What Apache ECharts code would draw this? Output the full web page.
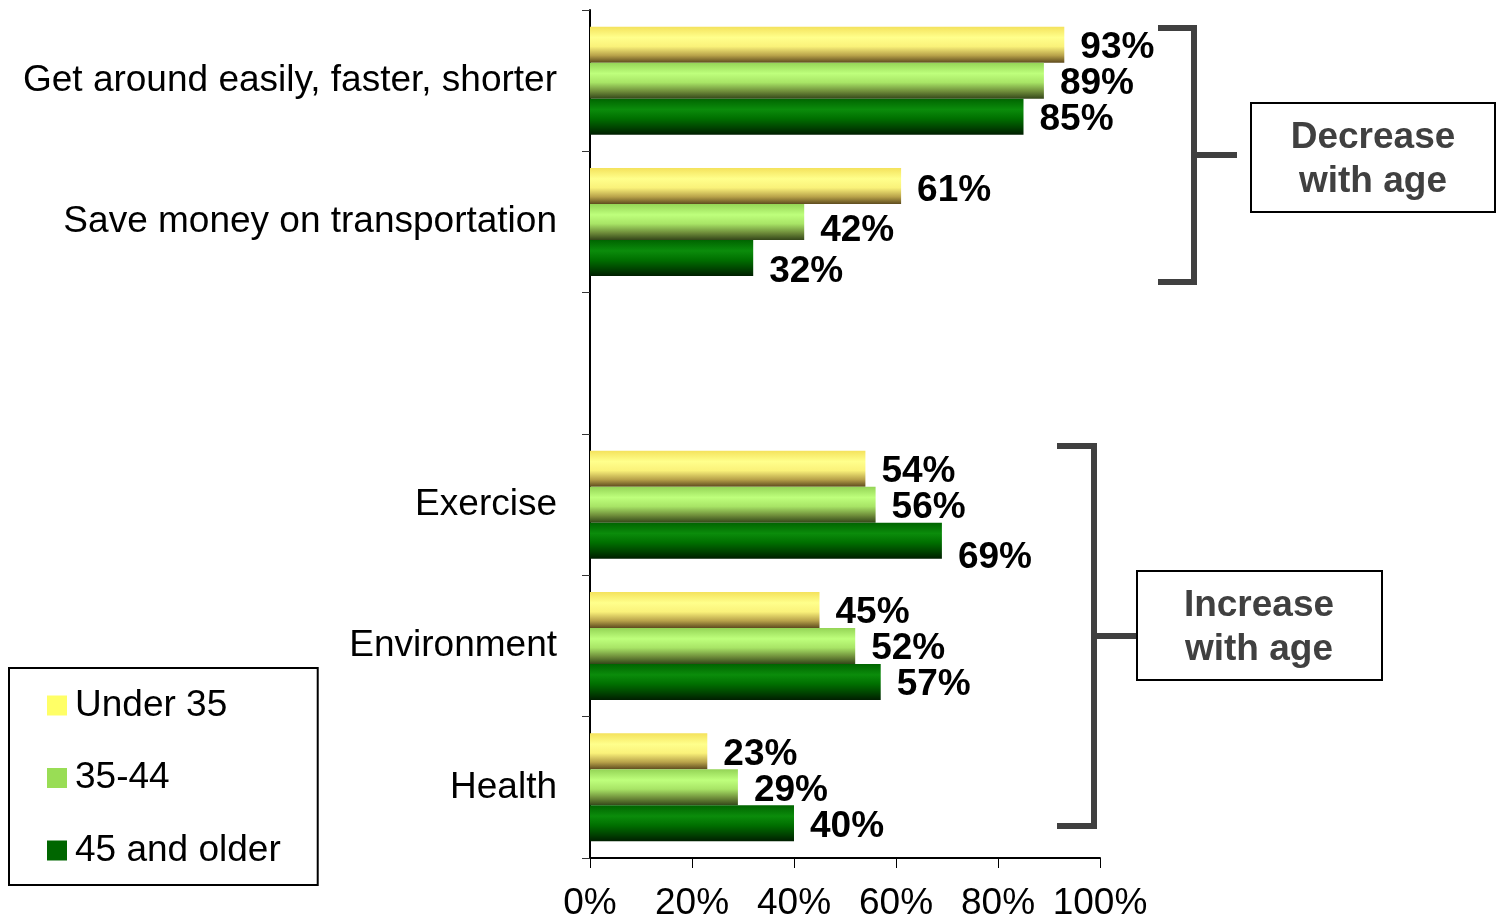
<!DOCTYPE html>
<html>
<head>
<meta charset="utf-8">
<title>Reasons for cycling by age group</title>
<script src="https://cdn.jsdelivr.net/npm/echarts@6/dist/echarts.min.js"></script>
<style>
  html, body { margin: 0; padding: 0; background: #fff; }
  #chart { width: 1496px; height: 919px; }
</style>
</head>
<body>
<div id="chart"></div>
<script>
// Categories top to bottom; the blank entry separates the two groups.
const categories = [
  'Get around easily, faster, shorter',
  'Save money on transportation',
  '',
  'Exercise',
  'Environment',
  'Health'
];
const seriesNames = ['Under 35', '35-44', '45 and older'];
const under35 = [93, 61, null, 54, 45, 23];
const age35to44 = [89, 42, null, 56, 52, 29];
const age45plus = [85, 32, null, 69, 57, 40];
const xTicks = [0, 20, 40, 60, 80, 100];

const FONT = '"Liberation Sans", Arial, Helvetica, sans-serif';
const FS = 37;

// Cylinder-like shading for each age group, plus a flat swatch for the legend.
const shades = [
  { flat: '#FFFF66', stops: ['#F4E25C', '#FFFF8C', '#FAF27A', '#B8A24A', '#5E4B1E'] },
  { flat: '#99DD55', stops: ['#94D456', '#BEFF7C', '#A8E466', '#6E8C3A', '#34461A'] },
  { flat: '#006600', stops: ['#006400', '#0B8C0B', '#007000', '#004400', '#001E00'] }
];
function gradient(stops) {
  return new echarts.graphic.LinearGradient(0, 0, 0, 1, [
    { offset: 0, color: stops[0] },
    { offset: 0.3, color: stops[1] },
    { offset: 0.55, color: stops[2] },
    { offset: 0.8, color: stops[3] },
    { offset: 1, color: stops[4] }
  ]);
}

// Small vertical nudges for value labels that sit below their bars.
const labelNudge = { '1|1': 9, '2|1': 14, '0|1': 5, '2|3': 17 };

const values = [under35, age35to44, age45plus];
const series = values.map((vals, s) => ({
  name: seriesNames[s],
  type: 'bar',
  barWidth: 36,
  barGap: '0%',
  barCategoryGap: '23.6%',
  itemStyle: { color: gradient(shades[s].stops) },
  label: {
    show: true,
    position: 'right',
    distance: 16,
    formatter: p => p.value + '%',
    fontFamily: FONT,
    fontSize: FS,
    fontWeight: 'bold',
    color: '#000'
  },
  data: vals.map((v, c) => {
    const nudge = labelNudge[s + '|' + c] || 3;
    return { value: v, label: { offset: [0, nudge] } };
  })
}));

const chart = echarts.init(document.getElementById('chart'), null, { renderer: 'canvas' });

const bracketStyle = { stroke: '#404040', lineWidth: 6, fill: null, lineJoin: 'miter' };
const boxText = {
  fill: '#404040',
  fontFamily: FONT,
  fontSize: FS,
  fontWeight: 'bold',
  align: 'center',
  verticalAlign: 'middle',
  lineHeight: 44
};

chart.setOption({
  animation: false,
  backgroundColor: '#fff',
  grid: { left: 590, right: 396, top: 10, bottom: 61, containLabel: false, outerBoundsMode: 'none' },
  legend: {
    orient: 'vertical',
    left: 9,
    top: 668,
    padding: [17, 37, 14, 38],
    borderColor: '#000',
    borderWidth: 2,
    itemWidth: 20,
    itemHeight: 20,
    itemGap: 31.5,
    selectedMode: false,
    textStyle: { fontFamily: FONT, fontSize: FS, color: '#000', lineHeight: 36, padding: [5, 0, 0, 3] },
    data: seriesNames.map((n, i) => ({ name: n, icon: 'rect', itemStyle: { color: shades[i].flat } }))
  },
  xAxis: {
    type: 'value',
    min: 0,
    max: 100,
    interval: 20,
    data: xTicks,
    axisLine: { show: true, lineStyle: { color: '#000', width: 2 } },
    axisTick: { show: true, length: 10, lineStyle: { color: '#000', width: 1 } },
    splitLine: { show: false },
    axisLabel: {
      margin: 27,
      formatter: '{value}%',
      fontFamily: FONT,
      fontSize: FS,
      color: '#000'
    }
  },
  yAxis: {
    type: 'category',
    inverse: true,
    data: categories,
    axisLine: { show: true, lineStyle: { color: '#000', width: 2 } },
    axisTick: { show: true, length: 8, alignWithLabel: false, lineStyle: { color: '#333', width: 1 } },
    axisLabel: {
      margin: 33,
      padding: [6, 0, 0, 0],
      fontFamily: FONT,
      fontSize: FS,
      color: '#000'
    }
  },
  series: series,
  graphic: [
    // "Decrease with age" bracket and box
    { type: 'polyline', shape: { points: [[1158, 28], [1194, 28], [1194, 282], [1158, 282]] }, style: bracketStyle },
    { type: 'line', shape: { x1: 1194, y1: 155, x2: 1237, y2: 155 }, style: bracketStyle },
    { type: 'rect', shape: { x: 1251, y: 103, width: 244, height: 109 }, style: { fill: '#fff', stroke: '#000', lineWidth: 2 } },
    { type: 'text', x: 1373, y: 160, style: Object.assign({ text: 'Decrease\nwith age' }, boxText) },
    // "Increase with age" bracket and box
    { type: 'polyline', shape: { points: [[1057, 446], [1094, 446], [1094, 826], [1057, 826]] }, style: bracketStyle },
    { type: 'line', shape: { x1: 1094, y1: 636, x2: 1138, y2: 636 }, style: bracketStyle },
    { type: 'rect', shape: { x: 1137, y: 571, width: 245, height: 109 }, style: { fill: '#fff', stroke: '#000', lineWidth: 2 } },
    { type: 'text', x: 1259, y: 628, style: Object.assign({ text: 'Increase\nwith age' }, boxText) }
  ]
});
</script>
</body>
</html>
